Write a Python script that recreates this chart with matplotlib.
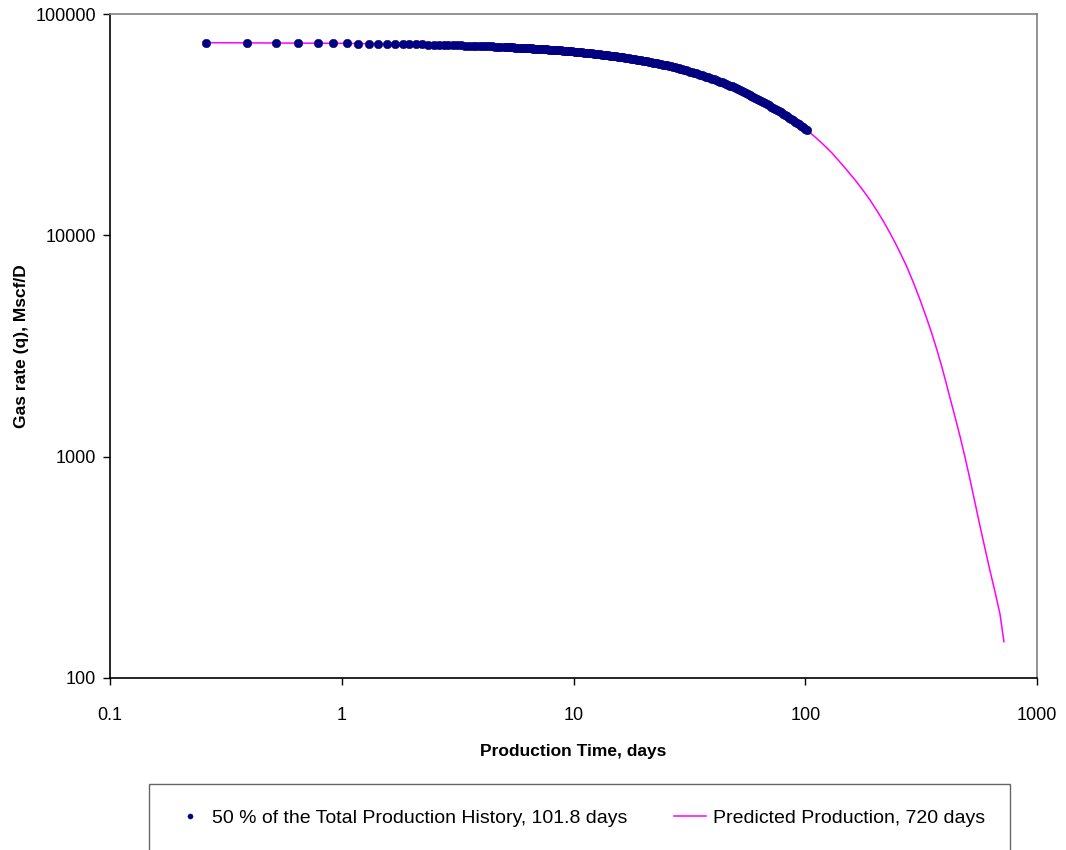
import matplotlib
matplotlib.use("Agg")
import matplotlib.pyplot as plt

plt.rcParams['font.family'] = ['Liberation Sans', 'DejaVu Sans']

# ---- data ----
history_t = [0.26, 0.39, 0.52, 0.65, 0.79, 0.92, 1.05, 1.18, 1.31, 1.44, 1.57, 1.70, 1.83, 1.96, 2.09,
             2.23, 2.36, 2.49, 2.62, 2.75, 2.88, 3.01, 3.14, 3.27, 3.40, 3.53, 3.67, 3.80, 3.93, 4.06,
             4.19, 4.32, 4.45, 4.58, 4.71, 4.84,
             5.0, 5.1, 5.2, 5.3, 5.4, 5.5, 5.6, 5.72, 5.85, 5.97, 6.1, 6.22, 6.35, 6.47, 6.6, 6.72, 6.85,
             6.97, 7.1, 7.25, 7.4, 7.55, 7.7, 7.85, 8.0, 8.15, 8.3, 8.47, 8.65, 8.82, 9.0, 9.17, 9.35,
             9.52, 9.7, 9.9, 10.1, 10.3, 10.5, 10.7, 10.9, 11.12, 11.35, 11.57, 11.8, 12.02, 12.25, 12.5,
             12.75, 13.0, 13.25, 13.52, 13.8, 14.07, 14.35, 14.62, 14.9, 15.2, 15.5, 15.8, 16.1, 16.42,
             16.75, 17.07, 17.4, 17.75, 18.1, 18.47, 18.85, 19.22, 19.6, 20.0, 20.4, 20.8, 21.2, 21.62,
             22.05, 22.47, 22.9, 23.35, 23.8, 24.27, 24.75, 25.25, 25.75, 26.27, 26.8, 27.32, 27.85,
             28.4, 28.95, 29.52, 30.1, 30.7, 31.3, 31.92, 32.55, 33.2, 33.85, 34.52, 35.2, 35.9, 36.6,
             37.35, 38.1, 38.85, 39.6, 40.4, 41.2, 42.02, 42.85, 43.7, 44.55, 45.45, 46.35, 47.27, 48.2,
             49.15, 50.1, 51.1, 52.1, 53.15, 54.2, 55.27, 56.35, 57.47, 58.6, 59.77, 60.95, 62.17, 63.4,
             64.65, 65.9, 67.22, 68.55, 69.92, 71.3, 72.72, 74.15, 75.62, 77.1, 78.65, 80.2, 81.8, 83.4,
             85.05, 86.7, 88.45, 90.2, 92.0, 93.8, 95.67, 97.55, 99.67, 101.8]
history_q = [74200, 74120, 74030, 73940, 73840, 73750, 73660, 73570, 73480, 73390, 73300, 73210, 73120,
             73030, 72940, 72840, 72750, 72660, 72570, 72480, 72390, 72300, 72210, 72120, 72040, 71950,
             71850, 71760, 71670, 71590, 71500, 71410, 71320, 71230, 71150, 71060,
             70950, 70880, 70810, 70750, 70680, 70620, 70550, 70470, 70380, 70300, 70210, 70130, 70040,
             69960, 69880, 69800, 69710, 69630, 69550, 69450, 69350, 69250, 69150, 69060, 68960, 68860,
             68760, 68650, 68530, 68420, 68300, 68190, 68080, 67970, 67850, 67720, 67590, 67470, 67340,
             67210, 67080, 66940, 66800, 66660, 66510, 66370, 66230, 66070, 65910, 65760, 65600, 65430,
             65260, 65090, 64920, 64750, 64580, 64400, 64210, 64030, 63850, 63660, 63460, 63260, 63060,
             62860, 62650, 62430, 62200, 61980, 61760, 61530, 61290, 61060, 60830, 60590, 60340, 60100,
             59850, 59600, 59340, 59080, 58810, 58540, 58260, 57970, 57680, 57390, 57100, 56810, 56510,
             56210, 55900, 55580, 55260, 54940, 54610, 54280, 53940, 53600, 53250, 52900, 52550, 52180,
             51810, 51440, 51070, 50690, 50300, 49910, 49520, 49130, 48730, 48320, 47900, 47490, 47070,
             46650, 46220, 45790, 45350, 44910, 44460, 44010, 43560, 43100, 42640, 42190, 41730, 41290,
             40850, 40420, 39980, 39530, 39080, 38630, 38170, 37720, 37270, 36820, 36360, 35900, 35440,
             34980, 34520, 34070, 33610, 33140, 32670, 32210, 31750, 31290, 30830, 30330, 29830]

predicted_t = [0.26, 1.0, 3.0, 10.0, 20.0, 30.0, 45.0, 60.0, 80.0, 101.8, 110, 120, 130, 140, 151, 165,
               178, 190, 205, 218, 232, 246, 260, 274, 293, 313, 332, 351, 370, 388, 405, 421, 443, 466,
               490, 514, 540, 568, 597, 627, 659, 692, 720]
predicted_q = [74200, 73700, 72300, 67660, 61530, 55950, 48520, 42080, 35500, 29830, 27880, 25660, 23630,
               21640, 19740, 17660, 15910, 14480, 12800, 11510, 10250, 9126, 8120, 7227, 6113, 5107, 4299,
               3626, 3035, 2558, 2162, 1849, 1511, 1229, 985, 789, 620, 484, 383, 305, 245, 195, 146]

x_ticks = [0.1, 1, 10, 100, 1000]
x_tick_labels = ["0.1", "1", "10", "100", "1000"]
y_ticks = [100, 1000, 10000, 100000]
y_tick_labels = ["100", "1000", "10000", "100000"]

history_label = "50 % of the Total Production History, 101.8 days"
predicted_label = "Predicted Production, 720 days"

# ---- figure ----
W, H = 1066, 850
fig = plt.figure(figsize=(W / 100, H / 100), dpi=100)
ax = fig.add_axes([110 / W, 1 - 678 / H, (1037 - 110) / W, (678 - 14) / H])

line_pred, = ax.plot(predicted_t, predicted_q, color="#FF00FF", lw=1.1, zorder=2)
line_hist, = ax.plot(history_t, history_q, linestyle="none", marker="o", markersize=6.2,
                     markerfacecolor="#000080", markeredgecolor="#000080", markeredgewidth=0.3, zorder=3)

ax.set_xscale("log")
ax.set_yscale("log")
ax.set_xlim(0.1, 1000)
ax.set_ylim(100, 100000)
ax.set_xticks(x_ticks)
ax.set_xticklabels(x_tick_labels)
ax.set_yticks(y_ticks)
ax.set_yticklabels(y_tick_labels)
ax.minorticks_off()
ax.tick_params(axis="both", which="major", direction="out", length=5, width=1, color="black",
               labelsize=13, labelcolor="black")
ax.tick_params(axis="x", pad=16)
ax.tick_params(axis="y", pad=5)

for side in ["left", "bottom"]:
    ax.spines[side].set_color("black")
    ax.spines[side].set_linewidth(1.2)
for side in ["top", "right"]:
    ax.spines[side].set_color("#808080")
    ax.spines[side].set_linewidth(1.2)

ax.set_xlabel("Production Time, days", fontsize=12.5, fontweight="bold", labelpad=14)
ax.set_ylabel("Gas rate (q), Mscf/D", fontsize=12.5, fontweight="bold", labelpad=5)

leg = fig.legend([line_hist, line_pred], [history_label, predicted_label], ncol=2,
                 loc="upper left", bbox_to_anchor=(149 / W, 1 - 784 / H), borderaxespad=0,
                 fontsize=14, frameon=True, fancybox=False, edgecolor="#404040",
                 borderpad=1.3, handlelength=1.6, handletextpad=0.36, columnspacing=2.4,
                 markerscale=0.6)
leg.get_frame().set_linewidth(1.0)

fig.savefig("out.png", dpi=100, facecolor="white")
